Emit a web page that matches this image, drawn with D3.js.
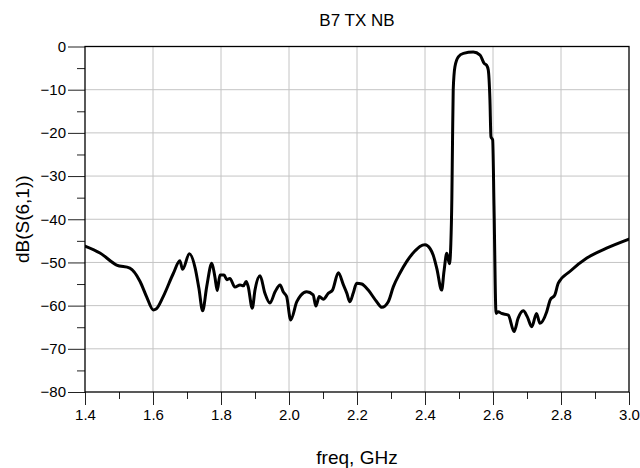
<!DOCTYPE html>
<html>
<head>
<meta charset="utf-8">
<script src="https://cdn.jsdelivr.net/npm/d3@7"></script>
<style>
  html, body { margin: 0; padding: 0; background: #fff; }
  svg { display: block; font-family: "Liberation Sans", Arial, sans-serif; }
</style>
</head>
<body>
<svg id="chart" width="640" height="468"></svg>
<script>
// Frequency sweep (GHz) and measured transmission dB(S(6,1))
const freq = [
  1.400, 1.444, 1.493, 1.532, 1.562, 1.581, 1.601, 1.609, 1.630, 1.660,
  1.679, 1.687, 1.707, 1.724, 1.735, 1.746, 1.758, 1.773, 1.782, 1.789,
  1.797, 1.809, 1.817, 1.826, 1.841, 1.856, 1.866, 1.874, 1.880, 1.892,
  1.900, 1.915, 1.929, 1.944, 1.959, 1.974, 1.983, 1.993, 2.005, 2.023,
  2.035, 2.052, 2.071, 2.079, 2.089, 2.101, 2.116, 2.128, 2.145, 2.160,
  2.170, 2.179, 2.189, 2.199, 2.214, 2.233, 2.258, 2.273, 2.292, 2.307,
  2.326, 2.346, 2.371, 2.385, 2.400, 2.415, 2.424, 2.435, 2.449, 2.456,
  2.464, 2.472, 2.476, 2.479, 2.481, 2.483, 2.488, 2.498, 2.513, 2.542,
  2.562, 2.574, 2.581, 2.586, 2.591, 2.594, 2.599, 2.603, 2.609, 2.615,
  2.625, 2.645, 2.662, 2.674, 2.689, 2.701, 2.714, 2.728, 2.738, 2.758,
  2.768, 2.782, 2.792, 2.826, 2.876, 2.934, 3.000
];
const s61 = [
  -46.2, -47.8, -50.6, -51.3, -54.4, -57.9, -61.0, -60.8, -57.9, -52.5,
  -49.6, -51.6, -48.0, -51.3, -56.0, -61.2, -55.6, -50.2, -53.3, -56.5,
  -52.9, -52.9, -54.0, -53.7, -55.7, -55.2, -55.4, -54.4, -55.6, -60.6,
  -56.4, -53.1, -57.1, -59.4, -56.8, -55.2, -56.8, -57.9, -63.3, -59.1,
  -57.6, -56.8, -57.5, -60.1, -57.9, -58.5, -57.1, -56.4, -52.4, -55.2,
  -57.1, -59.1, -57.1, -54.8, -55.0, -56.4, -59.1, -60.4, -59.1, -55.6,
  -52.5, -49.8, -47.3, -46.3, -45.9, -46.8, -48.3, -51.5, -56.4, -52.0,
  -47.9, -50.3, -45.6, -35.0, -21.6, -10.0, -4.7, -2.4, -1.6, -1.3,
  -2.0, -3.9, -4.3, -5.4, -12.4, -20.9, -21.6, -37.1, -61.8, -61.4,
  -61.8, -62.2, -66.0, -62.9, -61.2, -62.6, -64.9, -61.8, -64.1, -61.4,
  -58.7, -57.5, -54.8, -52.1, -49.0, -46.7, -44.6
];

// Axis tick values and labels
const xMajor = [1.4, 1.6, 1.8, 2.0, 2.2, 2.4, 2.6, 2.8, 3.0];
const xMinor = [1.5, 1.7, 1.9, 2.1, 2.3, 2.5, 2.7, 2.9];
const yMajor = [0, -10, -20, -30, -40, -50, -60, -70, -80];
const yMinor = [-5, -15, -25, -35, -45, -55, -65, -75];

const titleText = "B7 TX NB";
const xTitle = "freq, GHz";
const yTitle = "dB(S(6,1))";

const margin = { left: 85, right: 11, top: 46.5, bottom: 76 };
const W = 640, H = 468;
const svg = d3.select("#chart");

const x = d3.scaleLinear().domain([1.4, 3.0]).range([margin.left, W - margin.right]);
const y = d3.scaleLinear().domain([-80, 0]).range([H - margin.bottom, margin.top]);

const x0 = x.range()[0], x1 = x.range()[1];
const y0 = y.range()[0], y1 = y.range()[1];

// Grid lines
const grid = svg.append("g").attr("stroke", "#c4c4c4").attr("stroke-width", 1);
grid.selectAll("line.gx").data(xMajor.slice(1, -1)).join("line")
  .attr("x1", d => x(d)).attr("x2", d => x(d)).attr("y1", y0).attr("y2", y1);
grid.selectAll("line.gy").data(yMajor.slice(1, -1)).join("line")
  .attr("x1", x0).attr("x2", x1).attr("y1", d => y(d)).attr("y2", d => y(d));

// Bottom axis
const xAxis = svg.append("g").attr("transform", `translate(0,${y0})`)
  .call(d3.axisBottom(x).tickValues(xMajor).tickFormat(d3.format(".1f")).tickSize(13).tickPadding(4));
svg.append("g").attr("transform", `translate(0,${y0})`)
  .call(d3.axisBottom(x).tickValues(xMinor).tickFormat("").tickSize(7))
  .call(g => g.select(".domain").remove());

// Left axis
const yAxis = svg.append("g").attr("transform", `translate(${x0},0)`)
  .call(d3.axisLeft(y).tickValues(yMajor).tickFormat(d3.format("d")).tickSize(17).tickPadding(2));
svg.append("g").attr("transform", `translate(${x0},0)`)
  .call(d3.axisLeft(y).tickValues(yMinor).tickFormat("").tickSize(8))
  .call(g => g.select(".domain").remove());

svg.selectAll(".tick text").attr("font-size", 15).attr("fill", "#000")
  .attr("font-family", "'Liberation Sans', Arial, sans-serif");
svg.selectAll(".tick line").attr("stroke", "#222");
svg.selectAll(".domain").remove();

// Plot frame
svg.append("rect")
  .attr("x", x0).attr("y", y1).attr("width", x1 - x0).attr("height", y0 - y1)
  .attr("fill", "none").attr("stroke", "#000").attr("stroke-width", 1.3);

// Trace
svg.append("clipPath").attr("id", "plotClip").append("rect")
  .attr("x", x0).attr("y", y1 - 2).attr("width", x1 - x0).attr("height", y0 - y1 + 4);

const line = d3.line()
  .x((d, i) => x(freq[i]))
  .y(d => y(d))
  .curve(d3.curveMonotoneX);

svg.append("path")
  .datum(s61)
  .attr("clip-path", "url(#plotClip)")
  .attr("fill", "none")
  .attr("stroke", "#000")
  .attr("stroke-width", 3)
  .attr("stroke-linejoin", "round")
  .attr("stroke-linecap", "round")
  .attr("d", line);

// Titles
svg.append("text").attr("x", (x0 + x1) / 2).attr("y", 26)
  .attr("text-anchor", "middle").attr("font-size", 17).text(titleText);
svg.append("text").attr("x", (x0 + x1) / 2).attr("y", 464)
  .attr("text-anchor", "middle").attr("font-size", 19).text(xTitle);
svg.append("text")
  .attr("transform", `translate(29,${(y0 + y1) / 2}) rotate(-90)`)
  .attr("text-anchor", "middle").attr("font-size", 19).text(yTitle);
</script>
</body>
</html>
